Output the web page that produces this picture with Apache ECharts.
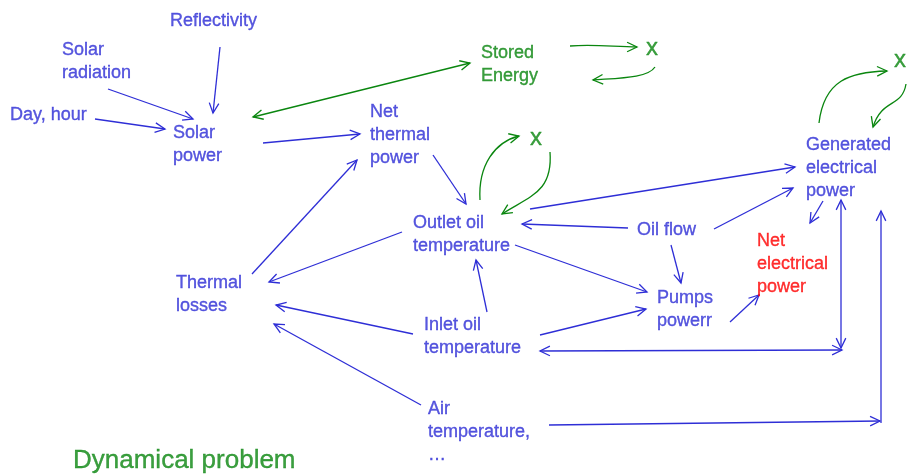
<!DOCTYPE html>
<html>
<head>
<meta charset="utf-8">
<script src="https://cdn.jsdelivr.net/npm/echarts@6/dist/echarts.min.js"></script>
<style>
html, body { margin: 0; padding: 0; background: #fff; }
#chart { width: 907px; height: 476px; }
</style>
</head>
<body>
<div id="chart"></div>
<script>
// node labels (top-left of the text block, in picture pixels)
var labelTexts = [
    "Reflectivity", "Solar\nradiation", "Day, hour", "Solar\npower",
    "Stored\nEnergy", "Net\nthermal\npower", "x", "x", "x",
    "Generated\nelectrical\npower", "Outlet oil\ntemperature", "Oil flow",
    "Net\nelectrical\npower", "Thermal\nlosses", "Pumps\npowerr",
    "Inlet oil\ntemperature", "Air\ntemperature,\n…", "Dynamical problem"
];
var labelX = [170, 62, 10, 173, 481, 370, 530, 646, 894, 806, 413, 637, 757, 176, 657, 424, 428, 73];
var labelY = [10, 39, 104, 122, 42, 101, 126, 36, 48, 134, 212, 219, 230, 272, 287, 314, 398, 446];
var labelKind = ["b", "b", "b", "b", "g", "b", "g", "g", "g", "b", "b", "b", "r", "b", "b", "b", "b", "g"];

// straight arrows: x1, y1, x2, y2, heads (1 = at end, 2 = both ends), colour
var straightArrows = [
    [220, 47, 213, 113, 1, "b"],
    [108, 89, 193, 119, 1, "b"],
    [95, 119, 165, 129, 1, "b"],
    [253, 117, 470, 63, 2, "g"],
    [263, 143, 360, 134, 1, "b"],
    [433, 155, 466, 204, 1, "b"],
    [628, 228, 522, 224, 1, "b"],
    [530, 209, 795, 167, 1, "b"],
    [714, 229, 793, 188, 1, "b"],
    [823, 201, 810, 223, 1, "b"],
    [841, 348, 841, 200, 2, "b"],
    [540, 351, 842, 350, 2, "b"],
    [549, 425, 880, 421, 1, "b"],
    [881, 423, 881, 211, 1, "b"],
    [421, 405, 274, 324, 1, "b"],
    [413, 334, 276, 305, 1, "b"],
    [402, 232, 269, 282, 1, "b"],
    [252, 274, 357, 160, 1, "b"],
    [487, 312, 476, 260, 1, "b"],
    [515, 245, 647, 292, 1, "b"],
    [671, 245, 681, 283, 1, "b"],
    [540, 335, 646, 309, 1, "b"],
    [730, 322, 759, 295, 1, "b"]
];

// curved arrows: x1, y1, cp1x, cp1y, cp2x, cp2y, x2, y2, colour
var curvedArrows = [
    [570, 46, 595, 44, 615, 47, 637, 47, "g"],
    [655, 67, 648, 78, 620, 78, 593, 80, "g"],
    [480, 200, 478, 165, 495, 142, 519, 136, "g"],
    [550, 152, 553, 192, 530, 196, 502, 214, "g"],
    [819, 123, 824, 80, 850, 72, 887, 71, "g"],
    [906, 84, 902, 108, 882, 98, 873, 127, "g"]
];

var colours = { b: "#2e2ed6", g: "#0a860f", r: "#ff0000" };

function headLines(px, py, fromX, fromY, api, colour) {
    // open chevron at point p, pointing away from 'from'
    var p = api.coord([px, py]);
    var f = api.coord([fromX, fromY]);
    var dx = p[0] - f[0], dy = p[1] - f[1];
    var len = Math.sqrt(dx * dx + dy * dy) || 1;
    dx /= len; dy /= len;
    var L = 11, a = 0.45;
    var c = Math.cos(a), s = Math.sin(a);
    var l = [p[0] - L * (dx * c - dy * s), p[1] - L * (dy * c + dx * s)];
    var r = [p[0] - L * (dx * c + dy * s), p[1] - L * (dy * c - dx * s)];
    return {
        type: "polyline",
        shape: { points: [l, p, r] },
        style: { stroke: colour, lineWidth: 1.3, fill: null }
    };
}

function renderStraight(params, api) {
    var x1 = api.value(0), y1 = api.value(1), x2 = api.value(2), y2 = api.value(3);
    var heads = api.value(4);
    var colour = colours[straightArrows[params.dataIndex][5]];
    var a = api.coord([x1, y1]), b = api.coord([x2, y2]);
    var children = [{
        type: "line",
        shape: { x1: a[0], y1: a[1], x2: b[0], y2: b[1] },
        style: { stroke: colour, lineWidth: 1.3 }
    }, headLines(x2, y2, x1, y1, api, colour)];
    if (heads == 2) {
        children.push(headLines(x1, y1, x2, y2, api, colour));
    }
    return { type: "group", children: children };
}

function renderCurve(params, api) {
    var v = [];
    for (var i = 0; i < 8; i++) v.push(api.value(i));
    var colour = colours[curvedArrows[params.dataIndex][8]];
    var p0 = api.coord([v[0], v[1]]), c1 = api.coord([v[2], v[3]]);
    var c2 = api.coord([v[4], v[5]]), p1 = api.coord([v[6], v[7]]);
    return {
        type: "group",
        children: [{
            type: "bezierCurve",
            shape: { x1: p0[0], y1: p0[1], cpx1: c1[0], cpy1: c1[1], cpx2: c2[0], cpy2: c2[1], x2: p1[0], y2: p1[1] },
            style: { stroke: colour, lineWidth: 1.3, fill: null }
        }, headLines(v[6], v[7], v[4], v[5], api, colour)]
    };
}

var labelData = labelTexts.map(function(t, i) {
    var size = 18, lh = 23;
    if (t == "Dynamical problem") { size = 26; lh = 30; }
    if (t == "x") { size = 24; lh = 24; }
    return {
        value: [labelX[i], labelY[i]],
        label: {
            formatter: t,
            color: colours[labelKind[i]],
            textBorderColor: colours[labelKind[i]],
            textBorderWidth: 0.35,
            fontSize: size,
            lineHeight: lh
        }
    };
});

var option = {
    animation: false,
    backgroundColor: "#ffffff",
    grid: { left: 0, right: 0, top: 0, bottom: 0 },
    xAxis: { type: "value", min: 0, max: 907, show: false },
    yAxis: { type: "value", min: 0, max: 476, inverse: true, show: false },
    series: [
        {
            type: "custom",
            renderItem: renderStraight,
            clip: false,
            dimensions: ["x1", "y1", "x2", "y2", "heads"],
            encode: { x: [0, 2], y: [1, 3] },
            data: straightArrows.map(function(a) { return a.slice(0, 5); })
        },
        {
            type: "custom",
            renderItem: renderCurve,
            clip: false,
            dimensions: ["x1", "y1", "c1x", "c1y", "c2x", "c2y", "x2", "y2"],
            encode: { x: [0, 6], y: [1, 7] },
            data: curvedArrows.map(function(a) { return a.slice(0, 8); })
        },
        {
            type: "scatter",
            symbolSize: 0,
            silent: true,
            label: {
                show: true,
                position: [0, 0],
                align: "left",
                verticalAlign: "top",
                fontFamily: "Liberation Sans, Arial, sans-serif"
            },
            data: labelData
        }
    ]
};

echarts.init(document.getElementById("chart")).setOption(option);
</script>
</body>
</html>
